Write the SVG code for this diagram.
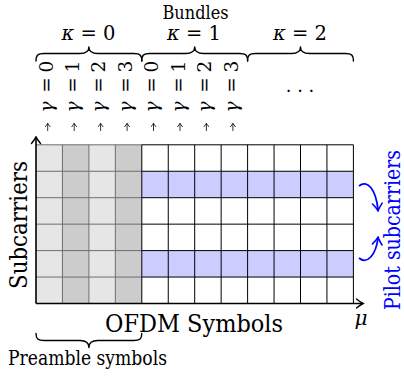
<svg xmlns="http://www.w3.org/2000/svg" width="404" height="379" viewBox="0 0 404 379">
  <style>
    text { fill: #000; }
    .it { font-style: italic; }
    .blue { fill: #0000ff; }
    .brace { fill: none; stroke: #000; stroke-width: 1.4; stroke-linecap: round; stroke-linejoin: round; }
    .pre1 { fill: #e6e6e6; }
    .pre2 { fill: #cccccc; }
    .pilot { fill: #ccccff; }
    .gl { stroke: #000; stroke-width: 1; fill: none; }
    .glg { stroke: #6e6e6e; stroke-width: 1; fill: none; }
    .axis { stroke: #000; stroke-width: 1.6; fill: none; marker-end: url(#head); }
    .tick { stroke: #000; stroke-width: 0.8; fill: none; marker-end: url(#small); }
    .ptr { stroke: #0000ff; stroke-width: 1.8; fill: none; marker-end: url(#bhead); }
  </style>
  <defs>
    <marker id="head" viewBox="-7 -6 9 12" refX="0" refY="0" markerWidth="9" markerHeight="12" markerUnits="userSpaceOnUse" orient="auto">
      <path d="M -6 -4.5 Q -2 -1.2 0.6 0 Q -2 1.2 -6 4.5" fill="none" stroke="#000" stroke-width="1.4" stroke-linecap="round"/>
    </marker>
    <marker id="small" viewBox="-4 -3 5 6" refX="0" refY="0" markerWidth="5" markerHeight="6" markerUnits="userSpaceOnUse" orient="auto">
      <path d="M -3.2 -2.4 Q -1 -0.6 0.3 0 Q -1 0.6 -3.2 2.4" fill="none" stroke="#000" stroke-width="0.8" stroke-linecap="round"/>
    </marker>
    <marker id="bhead" viewBox="-8 -6 10 12" refX="0" refY="0" markerWidth="10" markerHeight="12" markerUnits="userSpaceOnUse" orient="auto">
      <path d="M -6.5 -4.8 Q -2 -1.2 0.8 0 Q -2 1.2 -6.5 4.8" fill="none" stroke="#0000ff" stroke-width="1.6" stroke-linecap="round"/>
    </marker>
  </defs>

  <!-- time-frequency grid -->
  <g id="grid">
    <rect class="pre1" x="36" y="144.8" width="26.45" height="158.7"/>
    <rect class="pre2" x="62.45" y="144.8" width="26.45" height="158.7"/>
    <rect class="pre1" x="88.9" y="144.8" width="26.45" height="158.7"/>
    <rect class="pre2" x="115.35" y="144.8" width="26.45" height="158.7"/>
    <rect class="pilot" x="141.8" y="171.25" width="211.6" height="26.45"/>
    <rect class="pilot" x="141.8" y="250.6" width="211.6" height="26.45"/>
    <path class="glg" d="M62.45 144.8V303.5M88.9 144.8V303.5M115.35 144.8V303.5
      M36 144.8H141.8M36 171.25H141.8M36 197.7H141.8M36 224.15H141.8M36 250.6H141.8M36 277.05H141.8"/>
    <path class="gl" d="M141.8 144.8V303.5M168.25 144.8V303.5M194.7 144.8V303.5M221.15 144.8V303.5
      M247.6 144.8V303.5M274.05 144.8V303.5M300.5 144.8V303.5M326.95 144.8V303.5M353.4 144.8V303.5
      M141.8 144.8H353.4M141.8 171.25H353.4M141.8 197.7H353.4M141.8 224.15H353.4M141.8 250.6H353.4M141.8 277.05H353.4"/>
  </g>

  <!-- axes, index arrows and pilot pointers -->
  <g id="connectors">
    <path class="axis" d="M36 303.5V137.5"/>
    <path class="axis" d="M36 303.5H362.5"/>
    <path class="tick" d="M47.7 131V123.5"/>
    <path class="tick" d="M74.2 131V123.5"/>
    <path class="tick" d="M100.6 131V123.5"/>
    <path class="tick" d="M127.1 131V123.5"/>
    <path class="tick" d="M153.5 131V123.5"/>
    <path class="tick" d="M180 131V123.5"/>
    <path class="tick" d="M206.4 131V123.5"/>
    <path class="tick" d="M232.9 131V123.5"/>
    <path class="ptr" d="M359 186 C 367 179, 376 189, 378 210"/>
    <path class="ptr" d="M359 258 C 367 265, 376 255, 378 238"/>
  </g>

  <!-- bundle braces -->
  <g id="bundles" font-family="DejaVu Serif, serif">
    <text x="195.5" y="19" text-anchor="middle" font-size="18.5" textLength="66" lengthAdjust="spacingAndGlyphs">Bundles</text>
    <path class="brace" d="M36 61 C36 55 38 53.5 44 53.5 L80 53.5 C86 53.5 88.9 51 88.9 47 C88.9 51 91.8 53.5 97.8 53.5 L133.8 53.5 C139.8 53.5 141.8 55 141.8 61"/>
    <path class="brace" d="M141.8 61 C141.8 55 143.8 53.5 149.8 53.5 L185.8 53.5 C191.8 53.5 194.7 51 194.7 47 C194.7 51 197.6 53.5 203.6 53.5 L239.6 53.5 C245.6 53.5 247.6 55 247.6 61"/>
    <path class="brace" d="M247.6 61 C247.6 55 249.6 53.5 255.6 53.5 L291.6 53.5 C297.6 53.5 300.5 51 300.5 47 C300.5 51 303.4 53.5 309.4 53.5 L345.4 53.5 C351.4 53.5 353.4 55 353.4 61"/>
    <text x="88.5" y="40" text-anchor="middle" xml:space="preserve" font-size="19.5"><tspan class="it">κ</tspan> = 0</text>
    <text x="194" y="40" text-anchor="middle" xml:space="preserve" font-size="19.5"><tspan class="it">κ</tspan> = 1</text>
    <text x="300" y="40" text-anchor="middle" xml:space="preserve" font-size="19.5"><tspan class="it">κ</tspan> = 2</text>
    <text x="300" y="97" text-anchor="middle" font-size="18">· · ·</text>
  </g>

  <!-- symbol indices within a bundle -->
  <g id="indices" font-family="DejaVu Serif, serif" font-size="18.5">
    <text transform="translate(52.5 0) rotate(-90)"><tspan class="it" x="-112.5">γ</tspan><tspan x="-92.7">=</tspan><tspan x="-72.6">0</tspan></text>
    <text transform="translate(79 0) rotate(-90)"><tspan class="it" x="-112.5">γ</tspan><tspan x="-92.7">=</tspan><tspan x="-72.6">1</tspan></text>
    <text transform="translate(105.4 0) rotate(-90)"><tspan class="it" x="-112.5">γ</tspan><tspan x="-92.7">=</tspan><tspan x="-72.6">2</tspan></text>
    <text transform="translate(131.9 0) rotate(-90)"><tspan class="it" x="-112.5">γ</tspan><tspan x="-92.7">=</tspan><tspan x="-72.6">3</tspan></text>
    <text transform="translate(158.3 0) rotate(-90)"><tspan class="it" x="-112.5">γ</tspan><tspan x="-92.7">=</tspan><tspan x="-72.6">0</tspan></text>
    <text transform="translate(184.8 0) rotate(-90)"><tspan class="it" x="-112.5">γ</tspan><tspan x="-92.7">=</tspan><tspan x="-72.6">1</tspan></text>
    <text transform="translate(211.2 0) rotate(-90)"><tspan class="it" x="-112.5">γ</tspan><tspan x="-92.7">=</tspan><tspan x="-72.6">2</tspan></text>
    <text transform="translate(237.7 0) rotate(-90)"><tspan class="it" x="-112.5">γ</tspan><tspan x="-92.7">=</tspan><tspan x="-72.6">3</tspan></text>
  </g>

  <!-- axis labels -->
  <g id="subcarriers" font-family="DejaVu Serif, serif">
    <text font-size="24.5" transform="translate(26.6 225) rotate(-90)" text-anchor="middle" textLength="128" lengthAdjust="spacingAndGlyphs">Subcarriers</text>
  </g>
  <g id="ofdm-symbols" font-family="DejaVu Serif, serif">
    <text font-size="23.5" x="194" y="332" text-anchor="middle" textLength="178" lengthAdjust="spacingAndGlyphs">OFDM Symbols</text>
    <text class="it" x="361" y="325" text-anchor="middle" font-size="20">μ</text>
  </g>

  <!-- preamble brace -->
  <g id="preamble" font-family="DejaVu Serif, serif">
    <path class="brace" d="M36 333.5 C36 339 38 340.5 44 340.5 L80 340.5 C86 340.5 88.9 343 88.9 347.5 C88.9 343 91.8 340.5 97.8 340.5 L133.8 340.5 C139.8 340.5 141.8 339 141.8 333.5"/>
    <text x="87.5" y="365" text-anchor="middle" font-size="19.5" textLength="159" lengthAdjust="spacingAndGlyphs">Preamble symbols</text>
  </g>

  <!-- pilot label -->
  <g id="pilot-label" font-family="DejaVu Serif, serif">
    <text class="blue" transform="translate(400 230) rotate(-90)" text-anchor="middle" font-size="21.5" textLength="160" lengthAdjust="spacingAndGlyphs">Pilot subcarriers</text>
  </g>
</svg>
